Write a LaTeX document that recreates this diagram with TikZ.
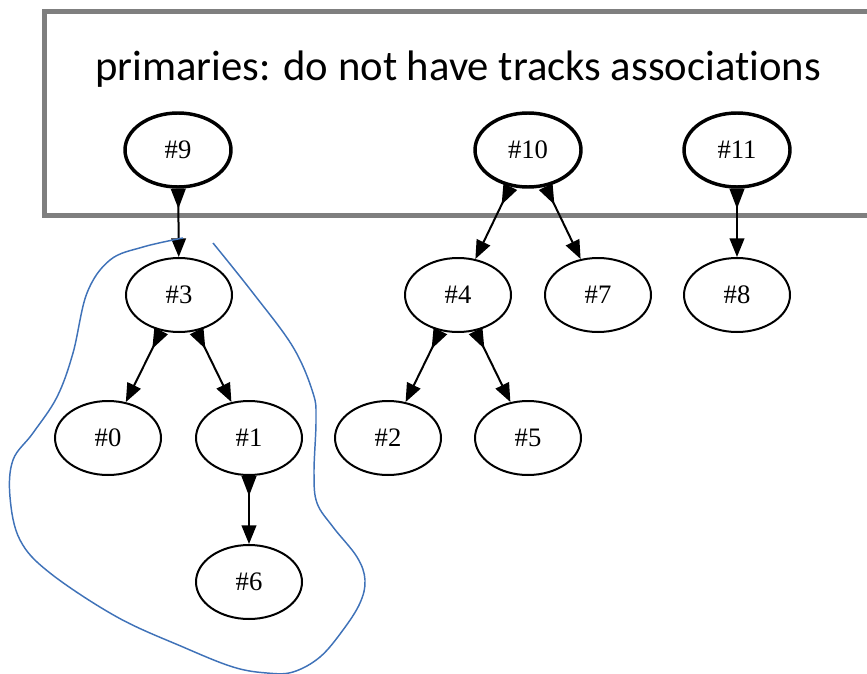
\documentclass[tikz,border=0pt]{standalone}
\usepackage{fontspec}
\setmainfont{Liberation Serif}
\newfontfamily\titlefont[Ligatures=NoCommon]{Carlito}
\usetikzlibrary{shapes.geometric,arrows.meta}
\definecolor{framegray}{HTML}{7F7F7F}
\definecolor{penblue}{HTML}{3F72B8}
\tikzset{
  gnode/.style={ellipse,draw=black,line width=1.5pt,minimum width=106*0.75pt,minimum height=74*0.75pt,inner sep=0pt,font=\fontsize{20}{22}\selectfont},
  pnode/.style={gnode,line width=2.6pt},
  gedge/.style={line width=1.5pt,{Triangle[reversed,length=15pt,width=11pt]}-{Triangle[length=14pt,width=11pt]}}
}
\begin{document}
\begin{tikzpicture}[x=0.75pt,y=-0.75pt]
\useasboundingbox (0,0) rectangle (867,674);
\clip (0,0) rectangle (867,674);
\draw[framegray,line width=3.75pt] (44.5,11.5) rectangle (890,215);
\node[font=\titlefont\fontsize{32}{36}\selectfont,anchor=base] (title) at (458,80) {primaries: do not have tracks associations};
\node[pnode] (n9) at (178,150) {\#9};
\node[pnode] (n10) at (528,150) {\#10};
\node[pnode] (n11) at (737,150) {\#11};
\node[gnode] (n3) at (179,295) {\#3};
\node[gnode] (n4) at (458,295) {\#4};
\node[gnode] (n7) at (598,295) {\#7};
\node[gnode] (n8) at (737,295) {\#8};
\node[gnode] (n0) at (108,438) {\#0};
\node[gnode] (n1) at (249,438) {\#1};
\node[gnode] (n2) at (388,438) {\#2};
\node[gnode] (n5) at (528,438) {\#5};
\node[gnode] (n6) at (249,582) {\#6};
\draw[gedge] (n9) -- (n3);
\draw[gedge] (n10) -- (n4);
\draw[gedge] (n10) -- (n7);
\draw[gedge] (n11) -- (n8);
\draw[gedge] (n3) -- (n0);
\draw[gedge] (n3) -- (n1);
\draw[gedge] (n4) -- (n2);
\draw[gedge] (n4) -- (n5);
\draw[gedge] (n1) -- (n6);
\draw[penblue,line width=1.1pt] plot[smooth,tension=0.6] coordinates {
 (213,243) (253,293) (293,347) (313,393) (316,420) (314,473) (317,503) (333,527)
 (357,557) (365,580) (360,603) (343,630) (320,657) (293,672) (267,673) (233,667)
 (183,647) (117,617) (50,573) (20,540) (10,497) (13,460) (33,433) (57,397)
 (73,353) (87,293) (110,260) (143,247) (183,238)};
\end{tikzpicture}
\end{document}
